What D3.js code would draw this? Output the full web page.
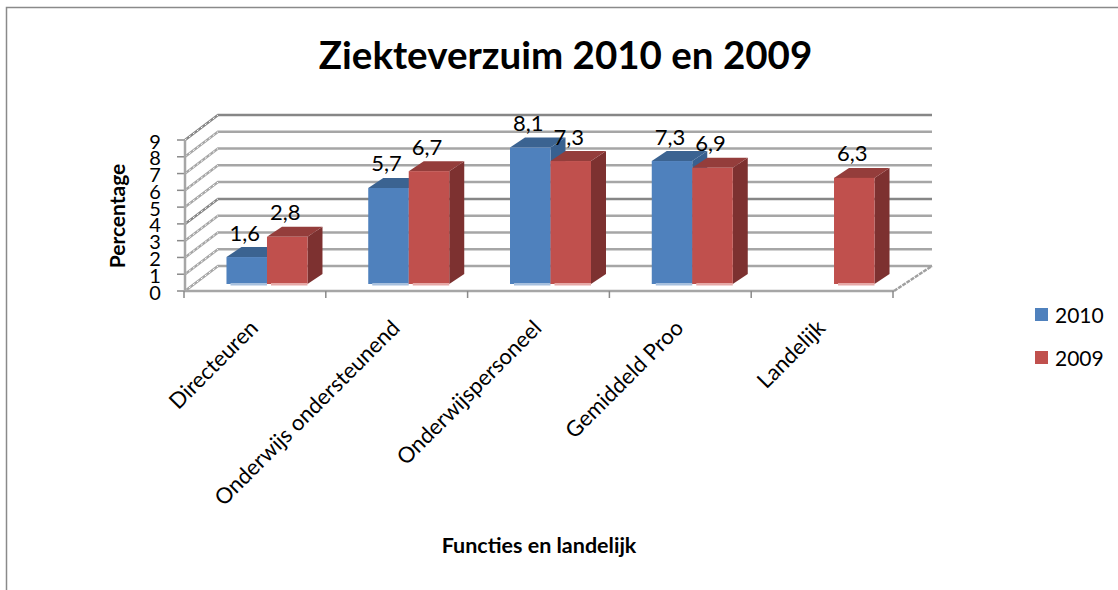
<!DOCTYPE html>
<html>
<head>
<meta charset="utf-8">
<script src="https://cdn.jsdelivr.net/npm/d3@7"></script>
<style>
    html, body { margin: 0; padding: 0; background: #fff; }
    svg { display: block; }
    text { font-family: Lato, "Open Sans", sans-serif; fill: #000; }
</style>
</head>
<body>
<div id="chart"></div>
<script>
const categories = ['Directeuren', 'Onderwijs ondersteunend', 'Onderwijspersoneel', 'Gemiddeld Proo', 'Landelijk'];
const seriesNames = ['2010', '2009'];
const values2010 = [1.6, 5.7, 8.1, 7.3, null];
const values2009 = [2.8, 6.7, 7.3, 6.9, 6.3];
const yTicks = [0, 1, 2, 3, 4, 5, 6, 7, 8, 9];

const width = 1118, height = 590;
const depthX = 33, depthY = 25;       // wall depth
const barDepthX = 15, barDepthY = 10; // bar depth

const colors = {
    '2010': { front: '#4f81bd', top: '#3b6391', side: '#38608f', base: '#a7c0de' },
    '2009': { front: '#c0504d', top: '#943d3b', side: '#7d3130', base: '#e6a9a7' }
};

const svg = d3.select('#chart').append('svg')
    .attr('width', width)
    .attr('height', height);

// outer chart border, runs off the right and bottom of the picture
svg.append('path')
    .attr('d', `M6.5,${height}V7.5H${width}`)
    .attr('fill', 'none')
    .attr('stroke', '#8a8a8a')
    .attr('stroke-width', 1.5);

const xAxisScale = d3.scaleBand().domain(categories).range([184, 893]);
const xBars = d3.scaleBand().domain(categories).range([196.1, 904.9]);
const xSeries = d3.scaleBand().domain(seriesNames).range([-40.5, 40.5]);
const yFront = d3.scaleLinear().domain([0, 9]).range([291, 140]);
const yBar = d3.scaleLinear().domain([0, 9]).range([284, 132.4]);

// gridlines on the back wall and the side wall
const grid = svg.append('g');
yTicks.forEach(t => {
    const y = yFront(t);
    const dark = t === 9 || t === 4;
    grid.append('path')
        .attr('d', `M185,${y}L${185 + depthX},${y - depthY}H932`)
        .attr('fill', 'none')
        .attr('stroke', dark ? '#868686' : '#a6a6a6')
        .attr('stroke-width', 2.5);
    // diagonal is lighter and dashed looking in the source
    grid.append('line')
        .attr('x1', 185).attr('y1', y)
        .attr('x2', 185 + depthX).attr('y2', y - depthY)
        .attr('stroke', '#fff')
        .attr('stroke-width', 1)
        .attr('stroke-dasharray', '2 3');
    grid.append('line')
        .attr('x1', 177).attr('x2', 185)
        .attr('y1', y).attr('y2', y)
        .attr('stroke', '#8a8a8a')
        .attr('stroke-width', 1.5);
});

// floor edge on the right
svg.append('path')
    .attr('d', `M894,291L932,266`)
    .attr('fill', 'none')
    .attr('stroke', '#a0a0a0')
    .attr('stroke-width', 2.5)
    .attr('stroke-dasharray', '4 1');

// front axis lines
svg.append('path')
    .attr('d', 'M185,140V291H894')
    .attr('fill', 'none')
    .attr('stroke', '#a6a6a6')
    .attr('stroke-width', 2.5);

const xTickValues = categories.map(c => xAxisScale(c)).concat([xAxisScale.range()[1]]);
svg.append('g').selectAll('line')
    .data(xTickValues)
    .enter().append('line')
    .attr('x1', d => d).attr('x2', d => d)
    .attr('y1', 291).attr('y2', 298)
    .attr('stroke', '#8a8a8a')
    .attr('stroke-width', 1.5);

// y tick labels
svg.append('g').selectAll('text')
    .data(yTicks)
    .enter().append('text')
    .attr('x', 155)
    .attr('y', d => yFront(d) + 1.5)
    .attr('dy', '0.35em')
    .attr('text-anchor', 'middle')
    .style('font-size', '20px')
    .text(d => d);

// flat list of bars, drawn back to front per group
const bars = [];
categories.forEach((c, i) => {
    seriesNames.forEach((s, j) => {
        const v = (j === 0 ? values2010 : values2009)[i];
        if (v !== null) bars.push({ category: c, series: s, value: v });
    });
});

const barG = svg.append('g').selectAll('g')
    .data(bars)
    .enter().append('g');

barG.each(function (d) {
    const g = d3.select(this);
    const c = colors[d.series];
    const x0 = xBars(d.category) + xBars.bandwidth() / 2 + xSeries(d.series);
    const x1 = x0 + xSeries.bandwidth();
    const y0 = yBar(d.value), y1 = yBar(0);

    g.append('path') // side
        .attr('d', `M${x1},${y0}L${x1 + barDepthX},${y0 - barDepthY}V${y1 - barDepthY}L${x1},${y1}Z`)
        .attr('fill', c.side);
    g.append('path') // top
        .attr('d', `M${x0},${y0}L${x0 + barDepthX},${y0 - barDepthY}H${x1 + barDepthX}L${x1},${y0}Z`)
        .attr('fill', c.top);
    g.append('rect') // front
        .attr('x', x0).attr('y', y0)
        .attr('width', x1 - x0).attr('height', y1 - y0)
        .attr('fill', c.front);
    g.append('rect') // light strip under the bar
        .attr('x', x0 + 4).attr('y', y1 - 1)
        .attr('width', x1 - x0 - 4).attr('height', 2.5)
        .attr('fill', c.base);
});

// value labels
barG.append('text')
    .attr('x', d => xBars(d.category) + xBars.bandwidth() / 2 + xSeries(d.series) + xSeries.bandwidth() / 2 - 2)
    .attr('y', d => yBar(d.value) - 16.5)
    .attr('text-anchor', 'middle')
    .style('font-size', '22px')
    .text(d => d3.format('.1f')(d.value).replace('.', ','));

// category labels, rotated 45 degrees
svg.append('g').selectAll('text')
    .data(categories)
    .enter().append('text')
    .attr('transform', d => `translate(${xAxisScale(d) + xAxisScale.bandwidth() / 2 - 1},324) rotate(-45)`)
    .attr('text-anchor', 'end')
    .attr('dy', '0.35em')
    .style('font-size', '22px')
    .text(d => d);

// title and axis titles
svg.append('text')
    .attr('x', 565.5).attr('y', 69)
    .attr('text-anchor', 'middle')
    .style('font-size', '38.5px')
    .style('font-weight', '700')
    .text('Ziekteverzuim 2010 en 2009');

svg.append('text')
    .attr('transform', 'translate(125,216) rotate(-90)')
    .attr('text-anchor', 'middle')
    .style('font-size', '21px')
    .style('font-weight', '700')
    .text('Percentage');

svg.append('text')
    .attr('x', 539).attr('y', 553)
    .attr('text-anchor', 'middle')
    .style('font-size', '21.5px')
    .style('font-weight', '700')
    .text('Functies en landelijk');

// legend
const legendY = d3.scalePoint().domain(seriesNames).range([316, 359]);
const legend = svg.append('g').selectAll('g')
    .data(seriesNames)
    .enter().append('g')
    .attr('transform', d => `translate(1035,${legendY(d)})`);
legend.append('rect')
    .attr('y', -8)
    .attr('width', 13).attr('height', 13)
    .attr('fill', d => colors[d].front);
legend.append('text')
    .attr('x', 20)
    .attr('dy', '0.35em')
    .style('font-size', '21px')
    .text(d => d);
</script>
</body>
</html>
